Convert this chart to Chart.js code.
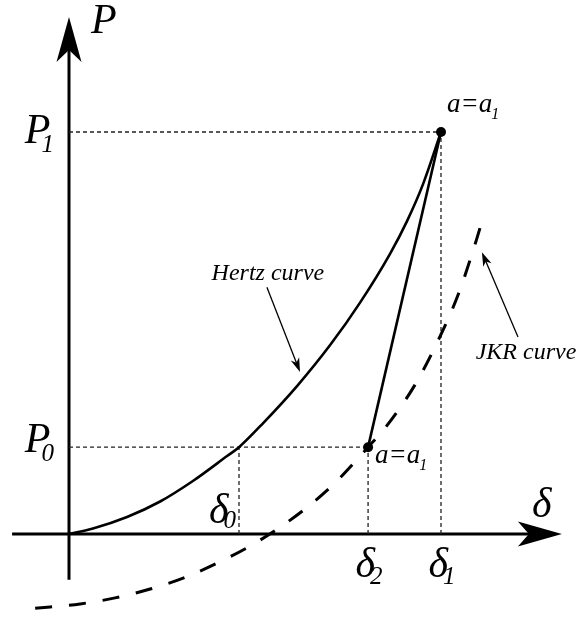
<!DOCTYPE html>
<html>
<head>
<meta charset="utf-8">
<script src="https://cdn.jsdelivr.net/npm/chart.js@4.4.1/dist/chart.umd.min.js"></script>
<style>
  html, body { margin: 0; padding: 0; background: #fff; }
  #wrap { width: 579px; height: 617px; }
</style>
</head>
<body>
<div id="wrap"><canvas id="chart" width="579" height="617"></canvas></div>
<script>
// deflection (δ) and load (P), normalised so that δ1 = P1 = 1
const deltaTicks = [0.457, 0.804, 1.0]
const deltaTickLabels = [['δ', '0'], ['δ', '2'], ['δ', '1']]
const loadTicks = [0.216, 1.0]
const loadTickLabels = [['P', '0'], ['P', '1']]

const hertzDelta = [0, 0.0645, 0.156, 0.245, 0.333, 0.425, 0.457, 0.522, 0.613, 0.702, 0.782, 0.863, 0.909, 0.952, 1.0]
const hertzLoad = [0, 0.0137, 0.0423, 0.0808, 0.1318, 0.194, 0.216, 0.276, 0.368, 0.470, 0.575, 0.697, 0.779, 0.871, 1.0]

const jkrDelta = [-0.091, 0.030, 0.124, 0.218, 0.312, 0.399, 0.485, 0.566, 0.641, 0.716, 0.777, 0.804, 0.850, 0.930, 0.989, 1.046, 1.091, 1.108]
const jkrLoad = [-0.185, -0.174, -0.159, -0.137, -0.108, -0.072, -0.031, 0.016, 0.067, 0.128, 0.188, 0.216, 0.264, 0.371, 0.475, 0.595, 0.719, 0.771]

// unloading at constant contact radius a = a1
const unloadDelta = [1.0, 0.804]
const unloadLoad = [1.0, 0.216]
const pointLabels = [['a=a', '1'], ['a=a', '1']]

const notes = [
  { text: 'Hertz curve', from: [0.532, 0.614], to: [0.621, 0.403] },
  { text: 'JKR curve', from: [1.207, 0.490], to: [1.110, 0.701] },
]

const toXY = (xs, ys) => xs.map((v, i) => ({ x: v, y: ys[i] }))

const guides = [
  [[0, loadTicks[0]], [deltaTicks[1], loadTicks[0]]],
  [[0, loadTicks[1]], [deltaTicks[2], loadTicks[1]]],
  [[deltaTicks[0], 0], [deltaTicks[0], loadTicks[0]]],
  [[deltaTicks[1], 0], [deltaTicks[1], loadTicks[0]]],
  [[deltaTicks[2], 0], [deltaTicks[2], loadTicks[1]]],
]

const SERIF = '"Liberation Serif", "DejaVu Serif", serif'

function drawSub(ctx, main, sub, x, y, size, subSize, kern, drop, align) {
  ctx.font = `italic ${size}px ${SERIF}`
  const mw = ctx.measureText(main).width
  ctx.font = `italic ${subSize}px ${SERIF}`
  const sw = ctx.measureText(sub).width
  const total = mw + kern + sw
  let left = x
  if (align === 'right') left = x - total
  if (align === 'center') left = x - total / 2
  ctx.textAlign = 'left'
  ctx.textBaseline = 'alphabetic'
  ctx.font = `italic ${size}px ${SERIF}`
  ctx.fillText(main, left, y)
  ctx.font = `italic ${subSize}px ${SERIF}`
  ctx.fillText(sub, left + mw + kern, y + drop)
}

function arrowHead(ctx, tx, ty, angle, len, hw, notch) {
  ctx.save()
  ctx.translate(tx, ty)
  ctx.rotate(angle)
  ctx.beginPath()
  ctx.moveTo(0, 0)
  ctx.lineTo(-len, -hw)
  ctx.lineTo(-len + notch, 0)
  ctx.lineTo(-len, hw)
  ctx.closePath()
  ctx.fill()
  ctx.restore()
}

const sketchPlugin = {
  id: 'sketch',
  beforeDatasetsDraw(chart) {
    const { ctx, scales: { x, y } } = chart
    const ox = x.getPixelForValue(0)
    const oy = y.getPixelForValue(0)
    ctx.save()
    ctx.strokeStyle = '#000'
    ctx.fillStyle = '#000'
    ctx.lineWidth = 3
    // δ axis
    const xl = x.getPixelForValue(-0.153)
    const xr = x.getPixelForValue(1.325)
    ctx.beginPath()
    ctx.moveTo(xl, oy)
    ctx.lineTo(xr - 30, oy)
    ctx.stroke()
    arrowHead(ctx, xr, oy, 0, 44, 12.5, 11)
    // P axis
    const yb = y.getPixelForValue(-0.114)
    const yt = y.getPixelForValue(1.286)
    ctx.beginPath()
    ctx.moveTo(ox, yb)
    ctx.lineTo(ox, yt + 30)
    ctx.stroke()
    arrowHead(ctx, ox, yt, -Math.PI / 2, 45, 12.5, 12)
    ctx.restore()
  },
  afterDatasetsDraw(chart) {
    const { ctx, scales: { x, y } } = chart
    const ox = x.getPixelForValue(0)
    const oy = y.getPixelForValue(0)
    const xr = x.getPixelForValue(1.325)
    const yt = y.getPixelForValue(1.286)
    ctx.save()
    ctx.fillStyle = '#000'
    ctx.strokeStyle = '#000'
    ctx.textBaseline = 'alphabetic'

    // axis titles
    ctx.font = `italic 42px ${SERIF}`
    ctx.textAlign = 'left'
    ctx.fillText('P', ox + 22, yt + 16)
    ctx.fillText('δ', xr - 30, oy - 17)

    // load ticks
    const loadDy = [5, 11]
    loadTicks.forEach((v, i) => {
      const [m, s] = loadTickLabels[i]
      drawSub(ctx, m, s, ox - 15, y.getPixelForValue(v) + loadDy[i], 42, 25, -9, 9, 'right')
    })

    // deflection ticks
    deltaTicks.forEach((v, i) => {
      const [m, s] = deltaTickLabels[i]
      const px = x.getPixelForValue(v)
      if (i === 0) drawSub(ctx, m, s, px - 3, oy - 11, 42, 25, -5, 5, 'right')
      else drawSub(ctx, m, s, px + 1, oy + 43, 42, 25, -5, 7, 'center')
    })

    // point labels
    const lblOff = [[6, -20], [7, 16]]
    unloadDelta.forEach((v, i) => {
      const [m, s] = pointLabels[i]
      drawSub(ctx, m, s, x.getPixelForValue(v) + lblOff[i][0], y.getPixelForValue(unloadLoad[i]) + lblOff[i][1], 27, 16, -1, 7, 'left')
    })

    // curve notes
    ctx.lineWidth = 1.3
    notes.forEach((n, i) => {
      const fx = x.getPixelForValue(n.from[0])
      const fy = y.getPixelForValue(n.from[1])
      const tx = x.getPixelForValue(n.to[0])
      const ty = y.getPixelForValue(n.to[1])
      const ang = Math.atan2(ty - fy, tx - fx)
      ctx.beginPath()
      ctx.moveTo(fx, fy)
      ctx.lineTo(tx - 8 * Math.cos(ang), ty - 8 * Math.sin(ang))
      ctx.stroke()
      arrowHead(ctx, tx, ty, ang, 14, 4.5, 4)
      ctx.font = `italic 24px ${SERIF}`
      ctx.textAlign = 'center'
      if (i === 0) ctx.fillText(n.text, fx + 1, fy - 7)
      else ctx.fillText(n.text, fx + 8, fy + 22)
    })
    ctx.restore()
  },
}

const guideSets = guides.map((g) => ({
  data: g.map(([a, b]) => ({ x: a, y: b })),
  showLine: true,
  borderColor: '#222',
  borderWidth: 1.3,
  borderDash: [4, 3],
  pointRadius: 0,
  order: 5,
}))

const chart = new Chart(document.getElementById('chart').getContext('2d'), {
  type: 'scatter',
  data: {
    datasets: [
      ...guideSets,
      {
        label: 'Hertz curve',
        data: toXY(hertzDelta, hertzLoad),
        showLine: true,
        borderColor: '#000',
        borderWidth: 2.6,
        pointRadius: 0,
        cubicInterpolationMode: 'monotone',
        order: 2,
      },
      {
        label: 'JKR curve',
        data: toXY(jkrDelta, jkrLoad),
        showLine: true,
        borderColor: '#000',
        borderWidth: 3,
        borderDash: [17, 17],
        pointRadius: 0,
        cubicInterpolationMode: 'monotone',
        order: 2,
      },
      {
        label: 'unloading',
        data: toXY(unloadDelta, unloadLoad),
        showLine: true,
        borderColor: '#000',
        borderWidth: 2.6,
        pointRadius: 5,
        pointBackgroundColor: '#000',
        pointBorderWidth: 0,
        order: 1,
      },
    ],
  },
  options: {
    responsive: false,
    animation: false,
    devicePixelRatio: 1,
    layout: { padding: 0, autoPadding: false },
    plugins: { legend: { display: false }, tooltip: { enabled: false } },
    scales: {
      x: { type: 'linear', display: false, min: -0.1855, max: 1.371 },
      y: { type: 'linear', display: false, min: -0.2065, max: 1.3284 },
    },
  },
  plugins: [sketchPlugin],
})
</script>
</body>
</html>
